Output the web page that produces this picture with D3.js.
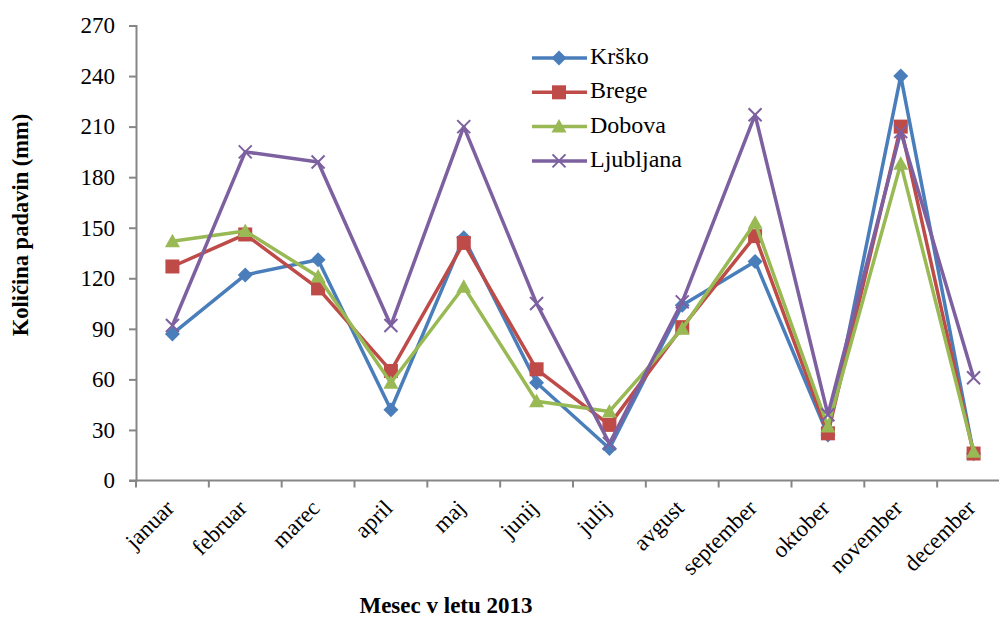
<!DOCTYPE html>
<html><head><meta charset="utf-8">
<script src="https://cdn.jsdelivr.net/npm/d3@7"></script>
<style>
body{margin:0;background:#fff;}
svg text{font-family:"Liberation Serif","Times New Roman",serif;fill:#000;}
</style></head>
<body><svg id="c" width="999" height="617"></svg>
<script>
const months = ["januar","februar","marec","april","maj","junij","julij","avgust","september","oktober","november","december"];
const krsko     = [87,122,131,42,144,58,19,104,130,27,240,16];
const brege     = [127,146,114,65,141,66,33,91,145,28,210,16];
const dobova    = [142,148,121,58,115,47,41,90,153,32,188,17];
const ljubljana = [92,195,189,92,210,105,22,106,217,39,207,61];
const yTicks = [0,30,60,90,120,150,180,210,240,270];
const seriesNames = ["Krško","Brege","Dobova","Ljubljana"];
const seriesColors = ["#4a7ebb","#be4b48","#98b954","#7d60a0"];
const seriesShapes = ["diamond","square","triangle","cross"];
const seriesData = [krsko,brege,dobova,ljubljana];

const FONT = "Liberation Serif, Times New Roman, serif";
const FS = 23;
const svg = d3.select("#c");
const pLeft = 136, pRight = 1010, pTop = 25.5, pBottom = 480.5;
const x = d3.scaleBand().domain(months).range([pLeft,pRight]);
const y = d3.scaleLinear().domain([0,270]).range([pBottom,pTop]);
const axisColor = "#868686";

// Y axis
const ya = svg.append("g").attr("transform",`translate(${pLeft},0)`)
  .call(d3.axisLeft(y).tickValues(yTicks).tickSize(7).tickPadding(14).tickFormat(d3.format("d")));
ya.attr("font-family",FONT).attr("font-size",FS);
ya.select(".domain").attr("stroke",axisColor).attr("stroke-width",2);
ya.selectAll(".tick line").attr("stroke",axisColor).attr("stroke-width",2);
ya.selectAll(".tick text").attr("fill","#000");

// X axis
const xa = svg.append("g").attr("transform",`translate(0,${pBottom})`);
xa.append("line").attr("x1",pLeft-7).attr("x2",999).attr("y1",0).attr("y2",0)
  .attr("stroke",axisColor).attr("stroke-width",2);
const bounds = months.map(m=>x(m)).concat([x(months[11])+x.bandwidth()]);
xa.selectAll("line.t").data(bounds).enter().append("line").attr("class","t")
  .attr("x1",d=>d).attr("x2",d=>d).attr("y1",0).attr("y2",7)
  .attr("stroke",axisColor).attr("stroke-width",2);
xa.selectAll("text.m").data(months).enter().append("text").attr("class","m")
  .attr("transform",d=>`translate(${x(d)+x.bandwidth()/2+3},${29}) rotate(-45)`)
  .attr("text-anchor","end").attr("font-family",FONT).attr("font-size",FS).text(d=>d);

// Axis titles
svg.append("text").attr("transform",`translate(28,225) rotate(-90)`)
  .attr("text-anchor","middle").attr("font-family",FONT).attr("font-size",22.5).attr("font-weight","bold")
  .text("Količina padavin (mm)");
svg.append("text").attr("x",446).attr("y",613).attr("text-anchor","middle")
  .attr("font-family",FONT).attr("font-size",23).attr("font-weight","bold").text("Mesec v letu 2013");

function marker(g, shape, color){
  if(shape==="diamond") g.append("path").attr("d","M0,-7.5L7.5,0L0,7.5L-7.5,0Z").attr("fill",color);
  else if(shape==="square") g.append("rect").attr("x",-7).attr("y",-7).attr("width",14).attr("height",14).attr("fill",color);
  else if(shape==="triangle") g.append("path").attr("d","M0,-7.5L7.5,6L-7.5,6Z").attr("fill",color);
  else g.append("path").attr("d","M-6.5,-6.5L6.5,6.5M-6.5,6.5L6.5,-6.5").attr("stroke",color).attr("stroke-width",2).attr("fill","none");
}

const line = d3.line().x((d,i)=>x(months[i])+x.bandwidth()/2).y(d=>y(d));
seriesData.forEach((data,si)=>{
  const g = svg.append("g");
  g.append("path").datum(data).attr("d",line).attr("fill","none")
    .attr("stroke",seriesColors[si]).attr("stroke-width",3.5).attr("stroke-linejoin","round");
  data.forEach((v,i)=>{
    const mg = g.append("g").attr("transform",`translate(${x(months[i])+x.bandwidth()/2},${y(v)})`);
    marker(mg, seriesShapes[si], seriesColors[si]);
  });
});

// Legend
const lg = svg.append("g");
seriesNames.forEach((n,i)=>{
  const yy = 58 + i*34.3;
  lg.append("line").attr("x1",532).attr("x2",587).attr("y1",yy).attr("y2",yy)
    .attr("stroke",seriesColors[i]).attr("stroke-width",3.5);
  const mg = lg.append("g").attr("transform",`translate(559,${yy})`);
  marker(mg, seriesShapes[i], seriesColors[i]);
  lg.append("text").attr("x",590).attr("y",yy+6).attr("font-family",FONT).attr("font-size",24).text(n);
});
</script></body></html>
